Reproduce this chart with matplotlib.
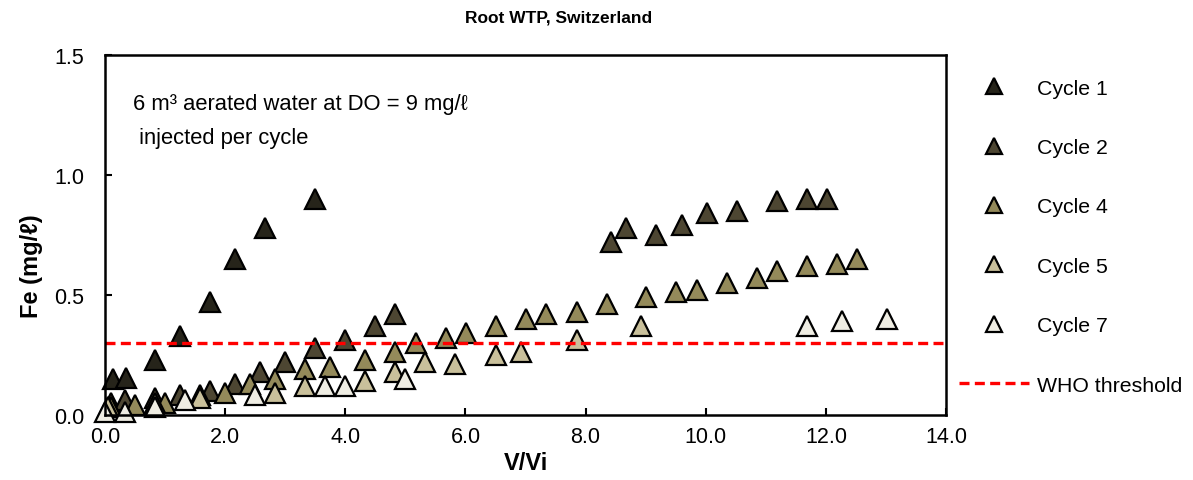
import matplotlib
matplotlib.use("Agg")
import matplotlib.pyplot as plt

plt.rcParams['font.family'] = ['Liberation Sans', 'DejaVu Sans']

# Fe concentration vs. pumped volume ratio for each injection cycle
cycle1_x = [0.13, 0.35, 0.83, 1.25, 1.75, 2.17, 2.67, 3.5]
cycle1_y = [0.15, 0.155, 0.23, 0.33, 0.47, 0.65, 0.78, 0.90]

cycle2_x = [0.1, 0.33, 0.83, 1.25, 1.75, 2.17, 2.58, 3.0, 3.5, 4.0, 4.5, 4.83,
            8.43, 8.68, 9.18, 9.6, 10.02, 10.52, 11.18, 11.68, 12.02]
cycle2_y = [0.05, 0.06, 0.07, 0.08, 0.10, 0.13, 0.18, 0.22, 0.28, 0.31, 0.37, 0.42,
            0.72, 0.78, 0.75, 0.79, 0.84, 0.85, 0.89, 0.90, 0.90]

cycle4_x = [0.1, 0.5, 1.0, 1.58, 2.0, 2.42, 2.83, 3.33, 3.75, 4.33, 4.83, 5.17, 5.68,
            6.01, 6.51, 7.01, 7.34, 7.85, 8.35, 9.0, 9.51, 9.85, 10.35, 10.85,
            11.18, 11.68, 12.18, 12.52]
cycle4_y = [0.03, 0.04, 0.05, 0.08, 0.09, 0.13, 0.15, 0.19, 0.20, 0.23, 0.26, 0.30, 0.32,
            0.34, 0.37, 0.40, 0.42, 0.43, 0.46, 0.49, 0.51, 0.52, 0.55, 0.57,
            0.60, 0.62, 0.63, 0.65]

cycle5_x = [0.05, 0.83, 1.58, 2.83, 3.33, 4.33, 4.83, 5.33, 5.83, 6.51, 6.93, 7.85, 8.93]
cycle5_y = [0.03, 0.05, 0.07, 0.09, 0.12, 0.14, 0.18, 0.22, 0.21, 0.25, 0.26, 0.31, 0.37]

cycle7_x = [0.0, 0.33, 0.83, 1.33, 2.5, 3.67, 4.0, 5.0, 11.68, 12.27, 13.02]
cycle7_y = [0.01, 0.01, 0.03, 0.06, 0.08, 0.12, 0.12, 0.15, 0.37, 0.39, 0.40]

who_threshold = 0.3

series = [
    ("Cycle 1", cycle1_x, cycle1_y, "#26241a"),
    ("Cycle 2", cycle2_x, cycle2_y, "#4d4632"),
    ("Cycle 4", cycle4_x, cycle4_y, "#948a5a"),
    ("Cycle 5", cycle5_x, cycle5_y, "#c9c09b"),
    ("Cycle 7", cycle7_x, cycle7_y, "#efede3"),
]

x_ticks = [0, 2, 4, 6, 8, 10, 12, 14]
y_ticks = [0.0, 0.5, 1.0, 1.5]

fig = plt.figure(figsize=(11.93, 4.81), dpi=100)
ax = fig.add_axes([0.088, 0.1358, 0.705, 0.7478])

for label, xs, ys, color in series:
    ax.plot(xs, ys, linestyle="none", marker="^", markersize=14,
            markerfacecolor=color, markeredgecolor="black",
            markeredgewidth=1.6, label=label, clip_on=False)

ax.axhline(who_threshold, color="#ff0000", linewidth=2.4,
           dashes=(3, 1.6), label="WHO threshold")

ax.set_xlim(0, 14)
ax.set_ylim(0, 1.5)
ax.set_xticks(x_ticks)
ax.set_xticklabels([f"{v:.1f}" for v in x_ticks])
ax.set_yticks(y_ticks)
ax.set_yticklabels([f"{v:.1f}" for v in y_ticks])
ax.tick_params(axis="both", direction="in", length=5, width=1.5,
               labelsize=15.5, colors="black")
ax.tick_params(axis="y", pad=15)
ax.tick_params(axis="x", pad=8)
for side in ["left", "bottom", "top", "right"]:
    ax.spines[side].set_linewidth(1.8)
    ax.spines[side].set_color("black")

ax.set_xlabel("V/Vi", fontsize=17, fontweight="bold", labelpad=3)
fig.text(0.026, 0.447, "Fe (mg/ℓ)", rotation=90, fontsize=17,
         fontweight="bold", ha="center", va="center")
fig.text(0.468, 0.962, "Root WTP, Switzerland", fontsize=12.5,
         fontweight="bold", ha="center", va="center")

ax.text(0.033, 0.895, "6 m³ aerated water at DO = 9 mg/ℓ\n injected per cycle",
        transform=ax.transAxes, fontsize=15.8, va="top", ha="left",
        linespacing=1.8)

leg = ax.legend(loc="upper left", bbox_to_anchor=(0.797, 0.852),
                bbox_transform=fig.transFigure, frameon=False,
                fontsize=15.3, handlelength=3.3, handletextpad=0.35,
                labelspacing=1.9, markerscale=0.85, borderaxespad=0)

fig.savefig("out.png", dpi=100)
